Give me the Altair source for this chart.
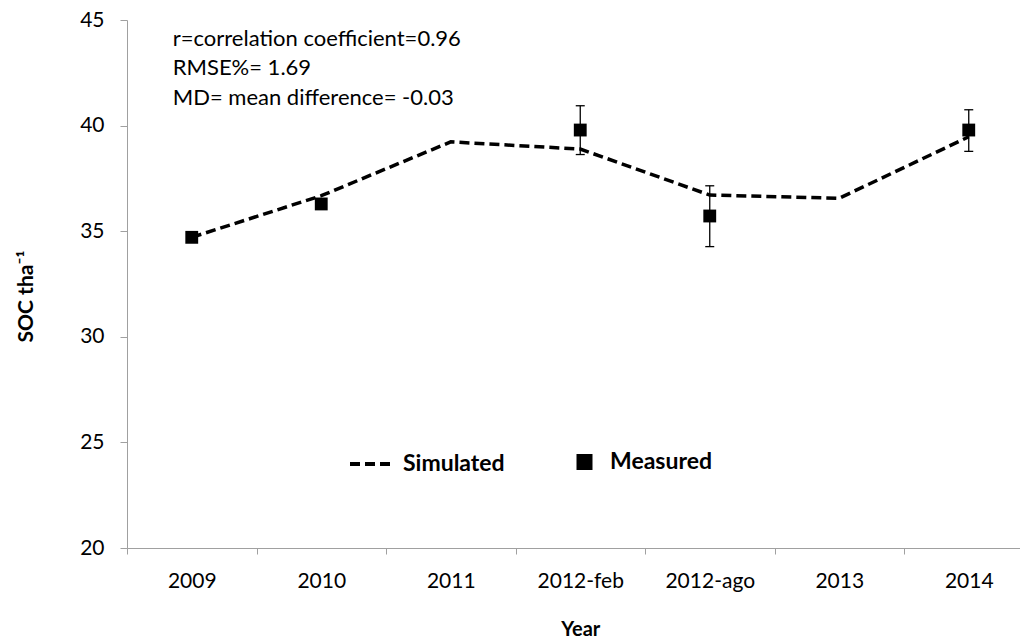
import altair as alt
import pandas as pd

years = ["2009", "2010", "2011", "2012-feb", "2012-ago", "2013", "2014"]
simulated = [34.71, 36.68, 39.23, 38.89, 36.71, 36.56, 39.47]

meas_years = ["2009", "2010", "2012-feb", "2012-ago", "2014"]
measured = [34.71, 36.29, 39.79, 35.72, 39.79]

err_years = ["2012-feb", "2012-ago", "2014"]
err_low = [38.63, 34.27, 38.78]
err_high = [40.94, 37.15, 40.75]

notes = ["r=correlation coefficient=0.96", "RMSE%= 1.69", "MD= mean difference= -0.03"]
note_y = [43.77, 42.40, 40.98]

y_ticks = [20, 25, 30, 35, 40, 45]

FONT = "Lato"
GRAY = "#a0a0a0"

sim_df = pd.DataFrame({"Year": years, "SOC": simulated, "series": ["Simulated"] * len(years)})
meas_df = pd.DataFrame({"Year": meas_years, "SOC": measured, "series2": ["Measured"] * len(meas_years)})
err_df = pd.DataFrame({"Year": err_years, "lo": err_low, "hi": err_high})
note_df = pd.DataFrame({"Year": ["2009"] * len(notes), "y": note_y, "text": notes})

xscale = alt.Scale(domain=years, range=[0, 906.5], paddingInner=0, paddingOuter=0)
yscale = alt.Scale(domain=[20, 45], nice=False, zero=False)

x_axis = alt.Axis(
    title="Year", labelAngle=0, tickBand="extent", tickSize=6, tickColor=GRAY,
    domainColor=GRAY, labelFont=FONT, labelFontSize=21, labelColor="black",
    labelPadding=16, titleFont=FONT, titleFontSize=20, titleFontWeight="bold",
    titleColor="black", titlePadding=28, grid=False,
)
y_axis = alt.Axis(
    title="SOC tha⁻¹", values=y_ticks, tickSize=7, tickColor=GRAY, domainColor=GRAY,
    labelFont=FONT, labelFontSize=21, labelColor="black", labelPadding=16,
    titleFont=FONT, titleFontSize=21, titleFontWeight="bold", titleColor="black",
    titlePadding=43, titleY=276, grid=False,
)

line = alt.Chart(sim_df).mark_line(color="black", strokeWidth=3.5).encode(
    x=alt.X("Year:N", scale=xscale, axis=x_axis, sort=years),
    y=alt.Y("SOC:Q", scale=yscale, axis=y_axis),
    strokeDash=alt.StrokeDash(
        "series:N",
        scale=alt.Scale(domain=["Simulated"], range=[[10, 5]]),
        legend=alt.Legend(
            orient="none", legendX=221, legendY=419.5, title=None, padding=0,
            symbolType="stroke", symbolSize=2025, symbolStrokeWidth=4,
            symbolDash=[13, 3.5], symbolStrokeColor="black", labelFont=FONT,
            labelFontSize=23, labelFontWeight="bold", labelColor="black",
            labelOffset=6,
        ),
    ),
)

rules = alt.Chart(err_df).mark_rule(color="black", strokeWidth=1.3).encode(
    x=alt.X("Year:N", scale=xscale, sort=years),
    y=alt.Y("lo:Q", scale=yscale),
    y2="hi:Q",
)
cap_lo = alt.Chart(err_df).mark_tick(color="black", size=9, thickness=1.3, opacity=1).encode(
    x=alt.X("Year:N", scale=xscale, sort=years),
    y=alt.Y("lo:Q", scale=yscale),
)
cap_hi = alt.Chart(err_df).mark_tick(color="black", size=9, thickness=1.3, opacity=1).encode(
    x=alt.X("Year:N", scale=xscale, sort=years),
    y=alt.Y("hi:Q", scale=yscale),
)

points = alt.Chart(meas_df).mark_point(filled=True, size=165, color="black", opacity=1).encode(
    x=alt.X("Year:N", scale=xscale, sort=years),
    y=alt.Y("SOC:Q", scale=yscale),
    shape=alt.Shape(
        "series2:N",
        scale=alt.Scale(domain=["Measured"], range=["square"]),
        legend=alt.Legend(
            orient="none", legendX=446, legendY=430.5, title=None, padding=0,
            symbolSize=256, symbolFillColor="black", symbolStrokeWidth=0,
            symbolOpacity=1, labelFont=FONT, labelFontSize=23,
            labelFontWeight="bold", labelColor="black", labelOffset=14,
        ),
    ),
)

text = alt.Chart(note_df).mark_text(
    align="left", baseline="alphabetic", dx=-19, font=FONT, fontSize=22, color="black"
).encode(
    x=alt.X("Year:N", scale=xscale, sort=years),
    y=alt.Y("y:Q", scale=yscale),
    text="text:N",
)

chart = alt.layer(line, rules, cap_lo, cap_hi, points, text).properties(
    width=893, height=528,
    autosize=alt.AutoSizeParams(type="none"),
    padding={"left": 119, "top": 12, "right": 0, "bottom": 96},
).configure_view(stroke=None)

chart.save("out.html", embed_options={"renderer": "svg", "actions": False})
